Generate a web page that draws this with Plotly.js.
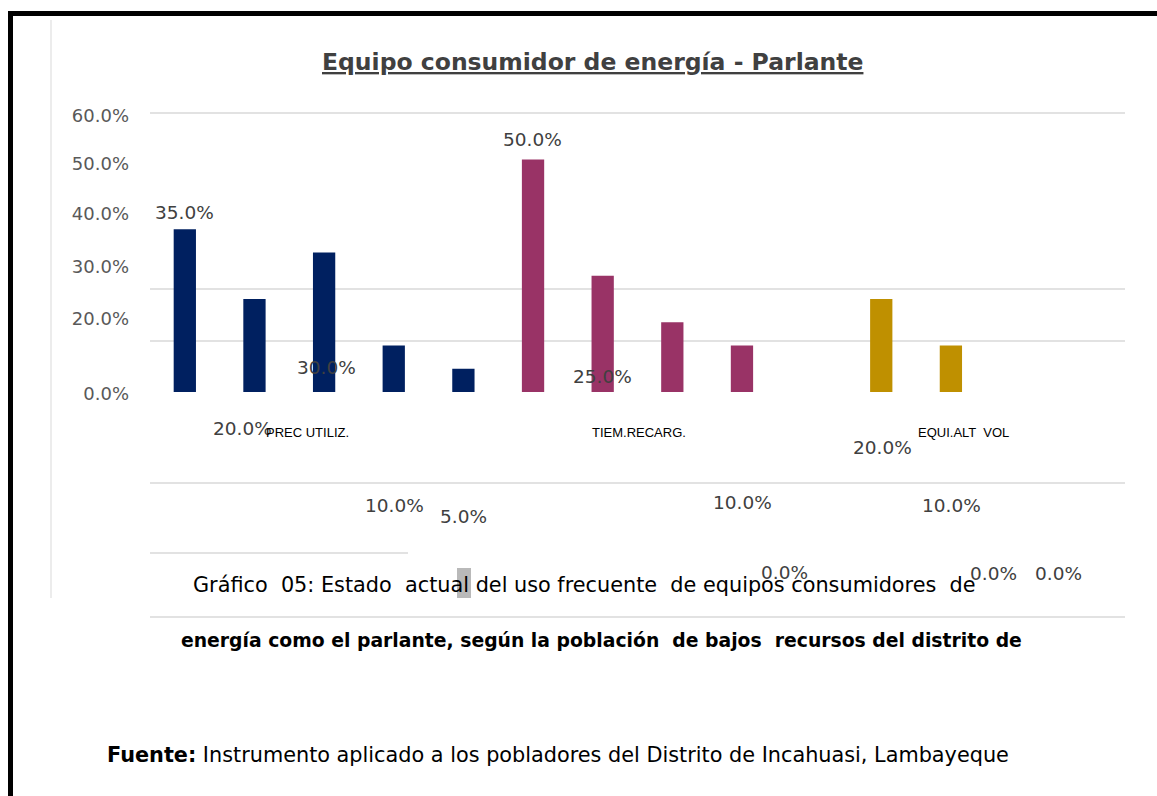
<!DOCTYPE html>
<html>
<head>
<meta charset="utf-8">
<script src="https://cdn.plot.ly/plotly-3.0.1.min.js"></script>
<style>
  html, body { margin: 0; padding: 0; background: #fff; }
  #chart { width: 1157px; height: 796px; }
</style>
</head>
<body>
<div id="chart"></div>
<script>
// ---------- data ----------
const groups = ['PREC UTILIZ.', 'TIEM.RECARG.', 'EQUI.ALT  VOL'];
const precUtiliz = [35.0, 20.0, 30.0, 10.0, 5.0];
const tiemRecarg = [50.0, 25.0, 15.0, 10.0, 0.0];
const equiAltVol = [20.0, 10.0, 0.0, 0.0];
const yTickText = ['0.0%', '20.0%', '30.0%', '40.0%', '50.0%', '60.0%'];
const chartTitle = 'Equipo consumidor de energía - Parlante';
const caption1 = 'Gráfico  05: Estado  actual del uso frecuente  de equipos consumidores  de';
const caption2 = 'energía como el parlante, según la población  de bajos  recursos del distrito de';
const sourceLabel = 'Fuente:';
const sourceText = ' Instrumento aplicado a los pobladores del Distrito de Incahuasi, Lambayeque';

// ---------- styles / layout helpers ----------
const W = 1157, H = 796;
const colors = ['#002060', '#993366', '#BF9000'];
const series = [precUtiliz, tiemRecarg, equiAltVol];
// displaced positions of the y tick labels as seen in the source picture
const yTickAt = [-0.43, 15.7, 26.88, 38.28, 49.03, 59.35];
// per-bar offsets (px) of the displaced value labels; null = label not visible
const labelDx = [[0, -12, 2, 1, 0], [-1, 0, 0, 1, -27], [1, 1, -27, -32]];
const labelDy = [[17, -129, -114.5, -159.5, -148], [20.5, -101, null, -156.5, -180], [-148, -159.5, -181, -181]];
const groupLabelDx = [-17, -33, -22];

const px = y => 1 - y / H;      // pixel row -> paper y
const pxX = x => x / W;         // pixel column -> paper x
const plotL = 150, plotR = 1125;

const traces = [];
const annotations = [];
let offset = 0;
series.forEach((vals, g) => {
  const xs = vals.map((v, i) => offset + i);
  traces.push({
    type: 'bar',
    name: groups[g],
    x: xs,
    y: vals,
    width: 0.32,
    marker: { color: colors[g], line: { width: 0 } },
    hoverinfo: 'skip'
  });
  vals.forEach((v, i) => {
    if (labelDy[g][i] === null) return;
    annotations.push({
      xref: 'x', yref: 'y', x: xs[i], y: v,
      text: v.toFixed(1) + '%', showarrow: false,
      xanchor: 'center', yanchor: 'middle',
      xshift: labelDx[g][i], yshift: labelDy[g][i],
      font: { family: 'DejaVu Sans', size: 18.5, color: '#404040' }
    });
  });
  annotations.push({
    xref: 'x', yref: 'paper', x: offset + (vals.length - 1) / 2, y: px(432),
    text: groups[g], showarrow: false, xanchor: 'center', yanchor: 'middle',
    xshift: groupLabelDx[g],
    font: { family: 'Liberation Sans', size: 13, color: '#000' }
  });
  offset += vals.length;
});

// title and caption texts
annotations.push({
  xref: 'paper', yref: 'paper', x: pxX(592), y: px(62), xanchor: 'center', yanchor: 'middle',
  text: '<b><u>' + chartTitle + '</u></b>', showarrow: false,
  font: { family: 'DejaVu Sans', size: 23.5, color: '#404040' }
});
annotations.push({
  xref: 'paper', yref: 'paper', x: pxX(584), y: px(585), xanchor: 'center', yanchor: 'middle',
  text: caption1, showarrow: false,
  font: { family: 'DejaVu Sans', size: 20.8, color: '#000' }
});
annotations.push({
  xref: 'paper', yref: 'paper', x: pxX(601), y: px(640), xanchor: 'center', yanchor: 'middle',
  text: '<b>' + caption2 + '</b>', showarrow: false,
  font: { family: 'DejaVu Sans', size: 18.8, color: '#000' }
});
annotations.push({
  xref: 'paper', yref: 'paper', x: pxX(105), y: px(755), xanchor: 'left', yanchor: 'middle',
  text: '<b>' + sourceLabel + '</b>' + sourceText, showarrow: false,
  font: { family: 'DejaVu Sans', size: 20.8, color: '#000' }
});

const grid = '#D9D9D9';
const hline = (y, x0, x1) => ({
  type: 'line', xref: 'paper', yref: 'paper', x0: pxX(x0), x1: pxX(x1), y0: px(y), y1: px(y),
  line: { color: grid, width: 1.5 }, layer: 'below'
});
const shapes = [
  hline(113, plotL, plotR), hline(289, plotL, plotR), hline(341, plotL, plotR),
  hline(483, plotL, plotR), hline(553, plotL, 408), hline(617, plotL, plotR),
  // faint chart-area frame on the left
  { type: 'line', xref: 'paper', yref: 'paper', x0: pxX(51), x1: pxX(51), y0: px(20), y1: px(598),
    line: { color: '#E6E6E6', width: 1.5 }, layer: 'below' },
  // page borders
  { type: 'line', xref: 'paper', yref: 'paper', x0: pxX(8), x1: 1, y0: px(13.5), y1: px(13.5),
    line: { color: '#000', width: 5 } },
  { type: 'line', xref: 'paper', yref: 'paper', x0: pxX(10.5), x1: pxX(10.5), y0: px(11), y1: 0,
    line: { color: '#000', width: 5 } },
  // grey smudge left over in the source
  { type: 'rect', xref: 'paper', yref: 'paper', x0: pxX(457), x1: pxX(471), y0: px(568), y1: px(598),
    fillcolor: '#8a8a8a', opacity: 0.6, line: { width: 0 } }
];

const layout = {
  width: W, height: H,
  margin: { l: 0, r: 0, t: 0, b: 0 },
  paper_bgcolor: '#fff', plot_bgcolor: 'rgba(0,0,0,0)',
  showlegend: false,
  barmode: 'overlay',
  xaxis: {
    domain: [pxX(plotL), pxX(plotR)],
    range: [-0.5, offset - 0.5],
    showgrid: false, zeroline: false, showline: false, showticklabels: false, ticks: ''
  },
  yaxis: {
    domain: [px(400), px(113)],
    range: [-1.72, 60],
    showgrid: false, zeroline: false, showline: false,
    tickmode: 'array', tickvals: yTickAt, ticktext: yTickText,
    ticks: '', ticklabelstandoff: 20,
    tickfont: { family: 'DejaVu Sans', size: 18, color: '#595959' }
  },
  shapes: shapes,
  annotations: annotations
};

Plotly.newPlot('chart', traces, layout, { staticPlot: true, displayModeBar: false });
</script>
</body>
</html>
